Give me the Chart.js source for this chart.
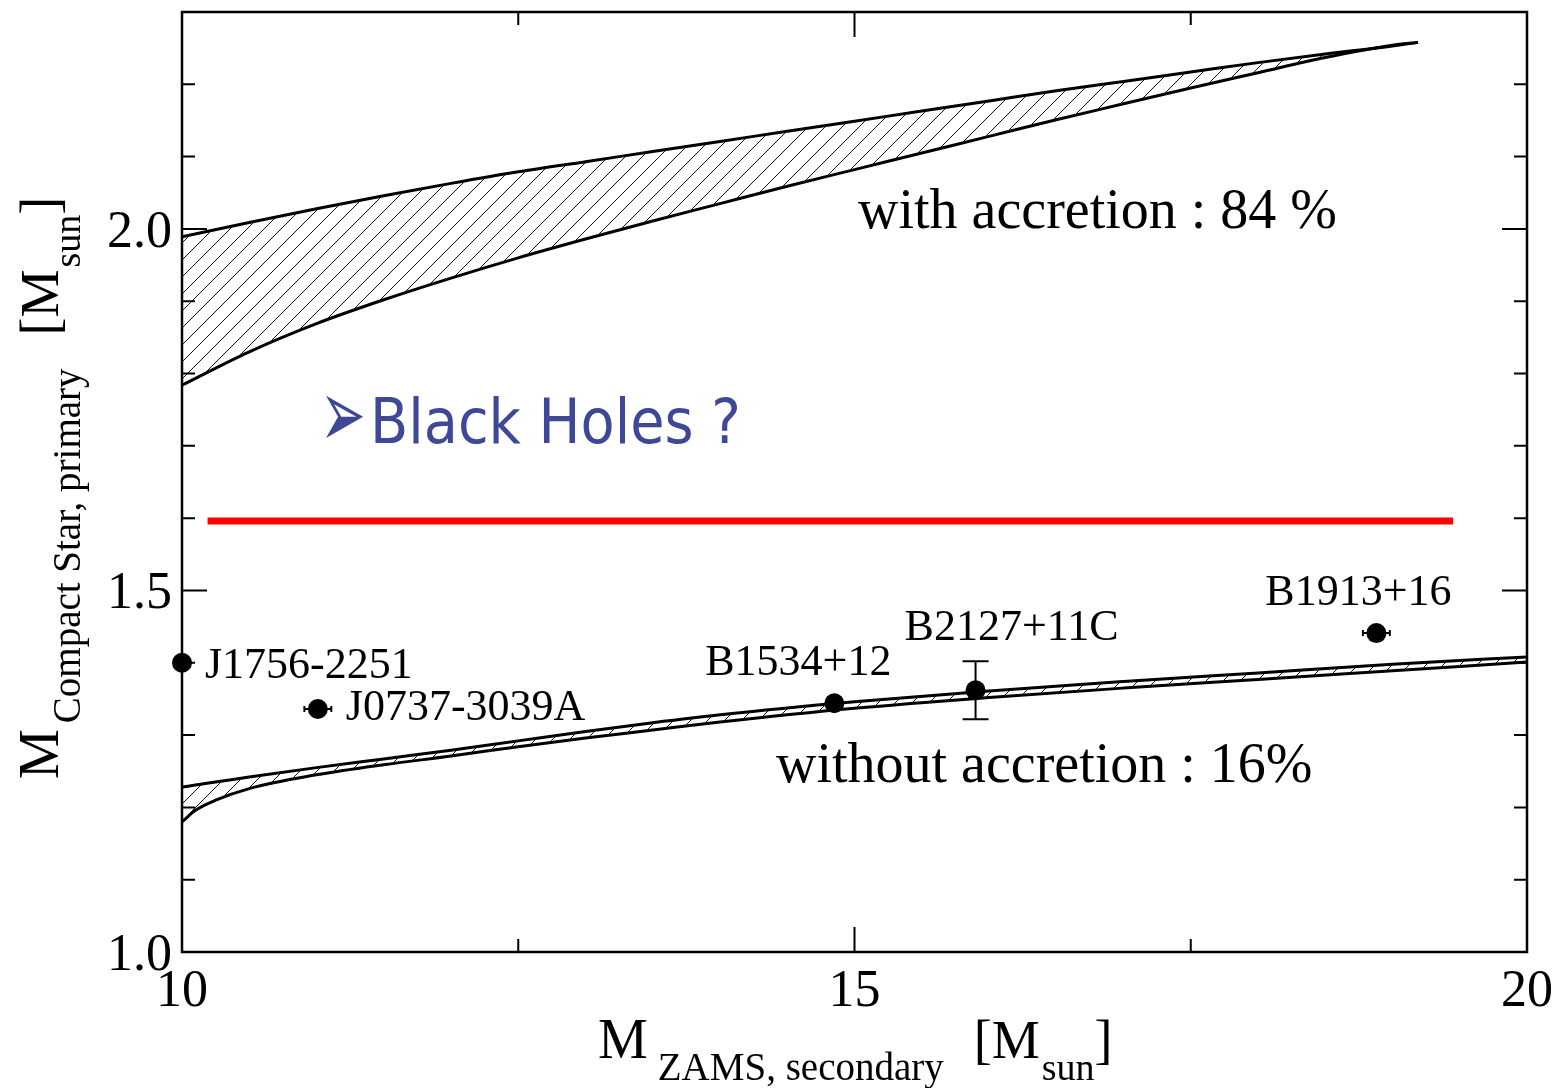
<!DOCTYPE html>
<html>
<head>
<meta charset="utf-8">
<script src="https://cdn.jsdelivr.net/npm/chart.js@4.4.1/dist/chart.umd.min.js"></script>
<style>
html, body { margin: 0; padding: 0; background: #fff; }
#wrap { width: 1561px; height: 1088px; }
</style>
</head>
<body>
<div id="wrap"><canvas id="chart" width="1561" height="1088"></canvas></div>
<script>
// band "with accretion" (secondary ZAMS mass vs. compact star mass)
var accX      = [10, 10.5, 11, 11.5, 12, 12.5, 13, 13.5, 14, 14.5, 15, 15.5, 16, 16.5, 17, 17.5, 18, 18.5, 19, 19.19];
var accTop    = [1.989, 2.009, 2.028, 2.046, 2.063, 2.079, 2.093, 2.107, 2.121, 2.135, 2.149, 2.163, 2.177, 2.191, 2.204, 2.217, 2.230, 2.242, 2.253, 2.258];
var accBottom = [1.784, 1.830, 1.869, 1.902, 1.932, 1.960, 1.986, 2.011, 2.035, 2.059, 2.082, 2.105, 2.128, 2.151, 2.173, 2.195, 2.216, 2.237, 2.254, 2.258];

// band "without accretion"
var noAccX      = [10, 10.1, 10.25, 10.5, 11, 11.5, 12, 12.5, 13, 13.5, 14, 15, 16, 17, 18, 19, 20];
var noAccTop    = [1.228, 1.231, 1.235, 1.242, 1.255, 1.267, 1.279, 1.292, 1.305, 1.317, 1.328, 1.346, 1.361, 1.374, 1.386, 1.398, 1.408];
var noAccBottom = [1.180, 1.196, 1.210, 1.226, 1.245, 1.259, 1.271, 1.284, 1.296, 1.307, 1.318, 1.337, 1.352, 1.365, 1.377, 1.389, 1.401];

// measured pulsars
var psrNames = ['J1756-2251', 'J0737-3039A', 'B1534+12', 'B2127+11C', 'B1913+16'];
var psrMass2 = [10.0, 11.01, 14.85, 15.9, 18.88];
var psrMass1 = [1.40, 1.336, 1.344, 1.362, 1.441];
var psrErrX  = [0, 0.1, 0, 0, 0.1];
var psrErrY  = [0, 0, 0, 0.04, 0];

// red limit line
var limitX = [10.19, 19.45];
var limitY = 1.596;

var xTicks = [10, 15, 20];
var yTicks = [1.0, 1.5, 2.0];

var serif = '"Liberation Serif", "Times New Roman", serif';

// label placement (pixels, relative to the point)
var labelPos = [
  { dx: 23, dy: 15, align: 'left' },
  { dx: 28, dy: 11, align: 'left' },
  { dx: -36, dy: -28, align: 'center' },
  { dx: 36, dy: -50, align: 'center' },
  { dx: -18, dy: -28, align: 'center' }
];

function pts(xs, ys) {
  return xs.map(function (x, i) { return { x: x, y: ys[i] }; });
}

function makeHatch() {
  var c = document.createElement('canvas');
  c.width = 17; c.height = 17;
  var g = c.getContext('2d');
  g.strokeStyle = '#111';
  g.lineWidth = 1;
  g.beginPath();
  g.moveTo(-1, 18); g.lineTo(18, -1);
  g.stroke();
  return g.createPattern(c, 'repeat');
}
var hatch = makeHatch();

var decor = {
  id: 'decor',
  afterDatasetsDraw: function (chart) {
    var ctx = chart.ctx, a = chart.chartArea;
    var xs = chart.scales.x, ys = chart.scales.y;
    ctx.save();
    // error bars
    ctx.strokeStyle = '#000';
    ctx.lineWidth = 2;
    psrMass2.forEach(function (m2, i) {
      var px = xs.getPixelForValue(m2), py = ys.getPixelForValue(psrMass1[i]);
      if (psrErrX[i] > 0) {
        var x1 = xs.getPixelForValue(m2 - psrErrX[i]), x2 = xs.getPixelForValue(m2 + psrErrX[i]);
        ctx.beginPath();
        ctx.moveTo(x1, py); ctx.lineTo(x2, py);
        ctx.moveTo(x1, py - 3); ctx.lineTo(x1, py + 3);
        ctx.moveTo(x2, py - 3); ctx.lineTo(x2, py + 3);
        ctx.stroke();
      }
      if (psrErrY[i] > 0) {
        var y1 = ys.getPixelForValue(psrMass1[i] + psrErrY[i]), y2 = ys.getPixelForValue(psrMass1[i] - psrErrY[i]);
        ctx.beginPath();
        ctx.moveTo(px, y1); ctx.lineTo(px, y2);
        ctx.moveTo(px - 13, y1); ctx.lineTo(px + 13, y1);
        ctx.moveTo(px - 13, y2); ctx.lineTo(px + 13, y2);
        ctx.stroke();
      }
    });
    // frame
    ctx.lineWidth = 2.5;
    ctx.strokeRect(a.left, a.top, a.right - a.left, a.bottom - a.top);
    // inward ticks
    ctx.lineWidth = 2;
    ctx.beginPath();
    for (var v = 10; v <= 20.001; v += 2.5) {
      var px = xs.getPixelForValue(v);
      var len = xTicks.indexOf(Math.round(v * 10) / 10) >= 0 ? 25 : 13;
      ctx.moveTo(px, a.bottom); ctx.lineTo(px, a.bottom - len);
      ctx.moveTo(px, a.top); ctx.lineTo(px, a.top + len);
    }
    for (var k = 0; k <= 13; k++) {
      var val = Math.round((1.0 + k * 0.1) * 10) / 10;
      var py = ys.getPixelForValue(val);
      var l2 = yTicks.indexOf(val) >= 0 ? 25 : 13;
      ctx.moveTo(a.left, py); ctx.lineTo(a.left + l2, py);
      ctx.moveTo(a.right, py); ctx.lineTo(a.right - l2, py);
    }
    ctx.stroke();
    ctx.restore();
  },
  afterDraw: function (chart) {
    var ctx = chart.ctx, a = chart.chartArea;
    var xs = chart.scales.x, ys = chart.scales.y;
    ctx.save();
    ctx.fillStyle = '#000';
    ctx.textBaseline = 'alphabetic';

    // tick labels
    ctx.font = '52px ' + serif;
    ctx.textAlign = 'right';
    yTicks.forEach(function (t) {
      ctx.fillText(t.toFixed(1), a.left - 10, ys.getPixelForValue(t) + 18);
    });
    ctx.textAlign = 'center';
    xTicks.forEach(function (t) {
      ctx.fillText(String(t), xs.getPixelForValue(t), a.bottom + 54);
    });

    // pulsar labels
    ctx.font = '44px ' + serif;
    psrNames.forEach(function (n, i) {
      var p = labelPos[i];
      ctx.textAlign = p.align;
      ctx.fillText(n, xs.getPixelForValue(psrMass2[i]) + p.dx, ys.getPixelForValue(psrMass1[i]) + p.dy);
    });

    // band annotations
    ctx.textAlign = 'left';
    ctx.font = '56px ' + serif;
    ctx.fillText('with accretion : 84 %', 858, 228);
    ctx.fillText('without accretion : 16%', 776, 782);

    // black holes note
    ctx.fillStyle = '#3f4896';
    ctx.save();
    ctx.translate(320, 422);
    ctx.scale(1.05, 1.85);
    ctx.font = '52px "DejaVu Sans"';
    ctx.textBaseline = 'middle';
    ctx.fillText('\u27A2', 0, 0);
    ctx.restore();
    ctx.font = '62px "DejaVu Sans Condensed", "DejaVu Sans"';
    ctx.fillText('Black Holes ?', 370, 443);

    // axis titles
    ctx.fillStyle = '#000';
    function title(parts) {
      var x = 0;
      parts.forEach(function (p) {
        ctx.font = p.size + 'px ' + serif;
        x += p.gap || 0;
        ctx.fillText(p.t, x, p.sub ? 22 : 0);
        x += ctx.measureText(p.t).width;
      });
    }
    var parts = [
      { t: 'M', size: 56 },
      { t: 'ZAMS, secondary', size: 39, sub: true, gap: 10 },
      { t: '[M', size: 54, gap: 30 },
      { t: 'sun', size: 38, sub: true, gap: 2 },
      { t: ']', size: 54, gap: 0 }
    ];
    ctx.save();
    ctx.translate(598, 1058);
    title(parts);
    ctx.restore();

    var partsY = [
      { t: 'M', size: 56 },
      { t: 'Compact Star, primary', size: 39, sub: true, gap: 6 },
      { t: '[M', size: 54, gap: 33 },
      { t: 'sun', size: 38, sub: true, gap: 2 },
      { t: ']', size: 54, gap: 0 }
    ];
    ctx.save();
    ctx.translate(58, 779);
    ctx.rotate(-Math.PI / 2);
    title(partsY);
    ctx.restore();

    ctx.restore();
  }
};

var lineBase = { showLine: true, borderColor: '#000', borderWidth: 3, pointRadius: 0, cubicInterpolationMode: 'monotone' };

new Chart(document.getElementById('chart'), {
  type: 'scatter',
  data: {
    datasets: [
      Object.assign({ data: pts(accX, accTop), fill: '+1', backgroundColor: hatch }, lineBase),
      Object.assign({ data: pts(accX, accBottom), fill: false }, lineBase),
      Object.assign({ data: pts(noAccX, noAccTop), fill: '+1', backgroundColor: hatch }, lineBase),
      Object.assign({ data: pts(noAccX, noAccBottom), fill: false }, lineBase),
      { data: pts(limitX, [limitY, limitY]), showLine: true, borderColor: '#ff0000', borderWidth: 7, pointRadius: 0, fill: false },
      { data: pts(psrMass2, psrMass1), pointRadius: 10, pointBackgroundColor: '#000', pointBorderWidth: 0, clip: false }
    ]
  },
  options: {
    responsive: false,
    animation: false,
    layout: { padding: { left: 182, top: 12, right: 34, bottom: 136 } },
    plugins: { legend: { display: false }, tooltip: { enabled: false } },
    scales: {
      x: { type: 'linear', min: 10, max: 20, display: false },
      y: { type: 'linear', min: 1.0, max: 2.3, display: false }
    }
  },
  plugins: [decor]
});
</script>
</body>
</html>
